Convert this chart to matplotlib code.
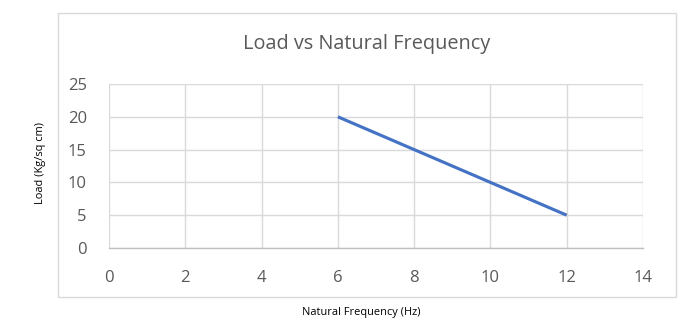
import matplotlib
matplotlib.use("Agg")
import matplotlib.pyplot as plt
from matplotlib.patches import Rectangle

# data
freq = [6, 8, 10, 12]
load = [20, 15, 10, 5]
x_ticks = [0, 2, 4, 6, 8, 10, 12, 14]
y_ticks = [0, 5, 10, 15, 20, 25]

plt.rcParams['font.family'] = ['Open Sans', 'DejaVu Sans']
txt = '#595959'
grid = '#d9d9d9'

fig = plt.figure(figsize=(7, 3.22), dpi=100)
W, H = 700, 322

# outer chart border
fig.patches.append(Rectangle((58 / W, 1 - 297 / H), 618 / W, 284 / H,
                             transform=fig.transFigure, fill=False,
                             edgecolor=grid, linewidth=1))

ax = fig.add_axes([109 / W, 1 - 248 / H, 534 / W, 164 / H])
ax.plot(freq, load, color='#4472C4', linewidth=2.25, solid_capstyle='butt')

ax.set_xlim(0, 14)
ax.set_ylim(0, 25)
ax.set_xticks(x_ticks)
ax.set_yticks(y_ticks)
ax.grid(True, color=grid, linewidth=1)
ax.set_axisbelow(True)
for s in ['top', 'right', 'left']:
    ax.spines[s].set_visible(False)
ax.spines['bottom'].set_color('#bfbfbf')
ax.spines['bottom'].set_linewidth(1)
ax.tick_params(length=0, labelsize=12, labelcolor=txt)
ax.tick_params(axis='x', pad=16)
ax.tick_params(axis='y', pad=16)

fig.text(367 / W, 1 - 44 / H, 'Load vs Natural Frequency', ha='center',
         va='center', fontsize=14.3, color=txt)
fig.text(361 / W, 1 - 313 / H, 'Natural Frequency (Hz)', ha='center',
         va='center', fontsize=7.9, color='black')
fig.text(40 / W, 1 - 163 / H, 'Load (Kg/sq cm)', ha='center',
         va='center', rotation=90, fontsize=7.9, color='black')

fig.savefig('out.png', dpi=100)
